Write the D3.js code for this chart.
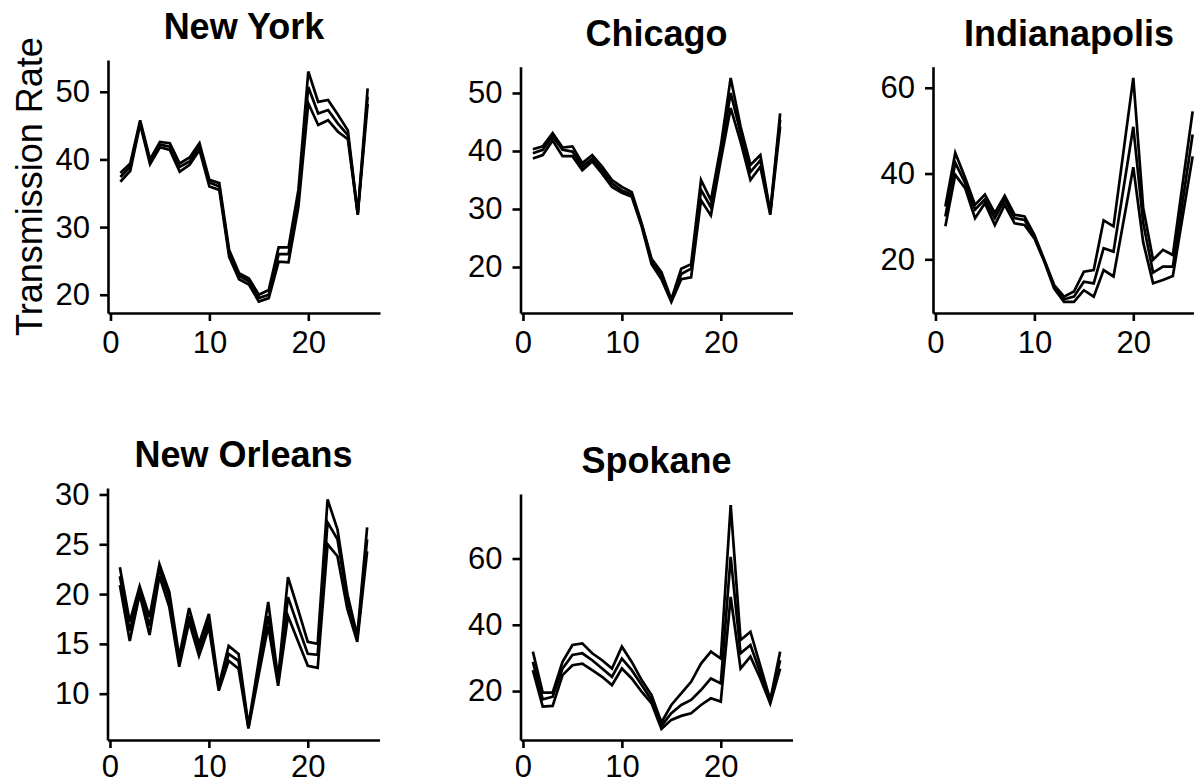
<!DOCTYPE html>
<html><head><meta charset="utf-8">
<script src="https://cdn.jsdelivr.net/npm/d3@7"></script>
<style>
body{margin:0;background:#fff}
svg{display:block;overflow:hidden}
text{font-family:"Liberation Sans",Arial,Helvetica,sans-serif;fill:#000}
</style>
</head><body>
<svg id="chart" width="1194" height="782"></svg>
<script>
// ---- data ----
const weeks = [1,2,3,4,5,6,7,8,9,10,11,12,13,14,15,16,17,18,19,20,21,22,23,24,25,26];
const xTicks = [0,10,20];

const nyUpper = [38.0,39.4,45.8,40.0,42.6,42.4,39.4,40.3,42.4,37.0,36.5,26.6,23.2,22.4,20.0,20.7,27.0,27.0,35.5,53.0,48.5,48.8,46.6,44.3,32.0,50.5];
const nyMid   = [37.4,38.9,45.5,39.7,42.2,41.9,38.9,39.7,41.9,36.6,36.0,26.1,22.8,22.0,19.5,20.0,26.0,26.0,34.5,50.7,46.8,47.3,45.3,43.6,32.0,49.3];
const nyLower = [36.7,38.3,45.2,39.3,41.8,41.4,38.2,39.2,41.4,36.0,35.5,25.6,22.3,21.5,19.0,19.5,24.9,24.8,33.0,48.3,45.1,45.8,44.1,43.0,31.8,48.2];
const nyTicks = [20,30,40,50];

const chiUpper = [40.3,40.8,43.1,40.6,40.8,37.9,39.3,37.3,35.0,33.8,32.9,27.5,21.4,19.1,14.4,19.7,20.5,35.0,31.5,40.8,52.6,44.2,37.6,39.3,29.5,46.5];
const chiMid   = [39.6,40.2,42.5,40.2,39.9,37.3,38.7,36.7,34.4,33.2,32.5,27.3,21.1,18.5,14.2,18.8,19.7,33.3,30.3,39.6,50.0,43.1,36.4,38.4,29.3,45.4];
const chiLower = [38.7,39.3,41.8,39.1,39.1,36.7,38.2,36.1,33.8,32.8,32.1,27.0,20.5,17.9,14.0,17.9,18.2,31.5,28.9,38.4,47.4,41.6,35.0,37.3,29.0,44.2];
const chiTicks = [20,30,40,50];

const indUpper = [32.3,44.8,39.0,32.7,35.1,30.8,34.8,30.4,30.0,25.7,19.9,14.0,11.3,12.5,17.1,17.5,29.1,27.7,45.0,62.3,32.0,19.9,22.2,21.0,37.8,54.5];
const indMid   = [30.0,42.5,37.8,31.6,34.0,29.6,33.9,29.6,29.2,25.3,19.7,13.6,10.7,11.3,14.8,14.4,22.6,21.8,36.4,50.9,28.5,16.9,18.3,18.3,33.7,49.1];
const indLower = [27.7,39.7,36.6,29.6,33.1,28.0,32.7,28.4,28.0,24.9,19.5,13.2,10.1,10.1,12.8,11.3,17.5,16.0,28.7,41.5,24.0,14.4,15.2,16.1,30.1,44.0];
const indTicks = [20,40,60];

const noUpper = [22.7,17.2,20.8,17.7,23.0,20.2,13.7,18.6,15.0,18.0,10.8,14.8,14.0,6.8,13.0,19.2,11.5,21.7,18.5,15.2,15.0,29.5,26.5,20.0,15.8,26.7];
const noMid   = [21.8,16.3,20.3,16.8,22.5,19.5,13.2,17.8,14.5,17.3,10.5,14.0,13.3,6.6,12.3,17.8,11.2,19.7,16.8,14.0,13.9,27.2,25.5,19.5,15.5,25.5];
const noLower = [20.9,15.3,20.0,15.9,21.8,18.7,12.7,17.2,13.8,16.7,10.3,13.3,12.5,6.5,11.7,16.8,10.8,17.8,15.3,12.8,12.6,25.0,23.8,18.5,15.2,24.3];
const noTicks = [10,15,20,25,30];

const spoUpper = [31.9,19.5,19.5,28.8,33.9,34.4,31.4,29.3,26.8,33.4,28.8,23.3,18.8,10.5,15.8,19.3,22.8,28.3,31.9,29.8,76.1,35.4,37.9,27.6,17.3,31.9];
const spoMid   = [28.8,17.5,18.3,26.8,30.9,31.4,29.3,26.8,24.3,29.8,26.3,21.8,17.3,9.5,13.3,15.8,17.3,20.3,23.8,22.3,60.5,31.4,33.9,25.5,16.8,29.3];
const spoLower = [26.3,15.3,15.5,24.8,27.8,28.3,26.3,24.3,21.8,26.8,23.8,19.8,16.3,8.6,11.3,12.5,13.3,15.8,17.8,16.8,48.4,26.8,30.4,23.8,16.2,26.8];
const spoTicks = [20,40,60];

const cities = ["New York","Chicago","Indianapolis","New Orleans","Spokane"];
const yTitle = "Transmission Rate";

// ---- layout ----
const panelBoxes = [
  {left:108,   top:60,   right:380,  bottom:313, pad:10},
  {left:520.5, top:66.7, right:792.5, bottom:313, pad:10},
  {left:933,   top:66.7, right:1205, bottom:313, pad:10},
  {left:107.5, top:488,  right:379.5, bottom:740, pad:7},
  {left:520.5, top:494,  right:792.5, bottom:740, pad:7}
];
const seriesSets = [
  [nyUpper,nyMid,nyLower],
  [chiUpper,chiMid,chiLower],
  [indUpper,indMid,indLower],
  [noUpper,noMid,noLower],
  [spoUpper,spoMid,spoLower]
];
const tickSets = [nyTicks,chiTicks,indTicks,noTicks,spoTicks];

const svg = d3.select("#chart");
const expand = ext => { const d=(ext[1]-ext[0])*0.05; return [ext[0]-d, ext[1]+d]; };

cities.forEach((city,i)=>{
  const b = panelBoxes[i];
  const series = seriesSets[i];
  const x = d3.scaleLinear().domain(expand(d3.extent(weeks))).range([b.left,b.right]);
  const allVals = series.flat();
  const y = d3.scaleLinear().domain(expand(d3.extent(allVals))).range([b.bottom,b.top]);

  const g = svg.append("g");
  const line = d3.line().x((d,k)=>x(weeks[k])).y(d=>y(d));
  series.forEach(s=>{
    g.append("path").datum(s).attr("d",line)
      .attr("fill","none").attr("stroke","#000").attr("stroke-width",2.7);
  });

  const ax = g.append("g").attr("transform",`translate(0,${b.bottom})`)
    .call(d3.axisBottom(x).tickValues(xTicks).tickSize(8).tickPadding(b.pad).tickSizeOuter(0));
  const ay = g.append("g").attr("transform",`translate(${b.left},0)`)
    .call(d3.axisLeft(y).tickValues(tickSets[i]).tickSize(8).tickPadding(10).tickSizeOuter(0));
  [ax,ay].forEach(a=>{
    a.attr("font-size",null).attr("font-family",null);
    a.selectAll("text").style("font-size","31px").attr("fill","#000");
    a.selectAll("line").attr("stroke","#000").attr("stroke-width",2.6);
    a.select(".domain").attr("stroke","#000").attr("stroke-width",2.6);
  });

  g.append("text").attr("x",(b.left+b.right)/2).attr("y",b.top-21)
    .attr("text-anchor","middle").style("font-size","36px").style("font-weight","bold")
    .text(city);
});

svg.append("text")
  .attr("transform",`translate(42,${(panelBoxes[0].top+panelBoxes[0].bottom)/2}) rotate(-90)`)
  .attr("text-anchor","middle").style("font-size","36px").text(yTitle);
</script>
</body></html>
